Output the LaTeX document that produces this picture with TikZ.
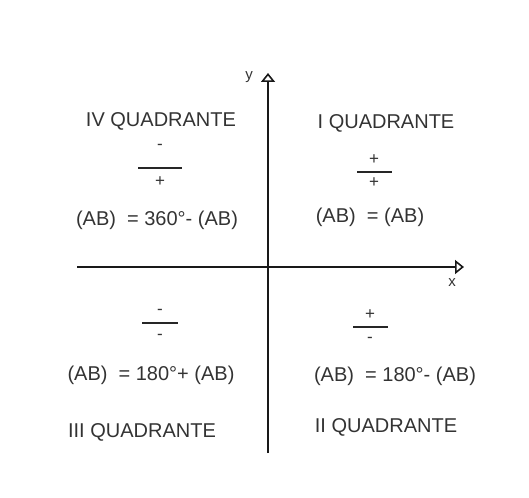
\documentclass[tikz,border=0pt]{standalone}
\usepackage{fontspec}
\setmainfont{Liberation Sans}
\usepackage{tikz}
\usetikzlibrary{arrows.meta}

\begin{document}
\begin{tikzpicture}[
  x=1pt, y=-1pt,
  label/.style={text=black!80, inner sep=0pt, font=\fontsize{20}{22}\selectfont},
  sign/.style={text=black!80, inner sep=0pt, font=\fontsize{17}{18}\selectfont},
  bar/.style={line width=1.3pt, draw=black!85},
  axis/.style={-{Triangle[open, length=9pt, width=14pt, line width=1.6pt]}, line width=2pt, draw=black!90}
]
  \useasboundingbox (0,0) rectangle (529,497);

  % axes
  \coordinate (ybot) at (268,453);
  \coordinate (ytop) at (268,73);
  \coordinate (xleft) at (77,267);
  \coordinate (xright) at (464,267);
  \draw[axis] (ybot) -- (ytop);
  \draw[axis] (xleft) -- (xright);
  \node[sign, font=\fontsize{15}{15}\selectfont] (ylab) at (249,77) {y};
  \node[sign, font=\fontsize{15}{15}\selectfont] (xlab) at (452,283) {x};

  % IV quadrant
  \node[label] (q4) at (161,121) {IV QUADRANTE};
  \node[sign] (q4num) at (160,147) {-};
  \node[sign] (q4den) at (160,182) {+};
  \draw[bar] (138,168) -- (182,168);
  \node[label] (q4eq) at (157,220) {(AB) \ = 360°- (AB)};

  % I quadrant
  \node[label] (q1) at (386,123) {I QUADRANTE};
  \node[sign] (q1num) at (374,160) {+};
  \node[sign] (q1den) at (374,183) {+};
  \draw[bar] (357,172) -- (392,172);
  \node[label] (q1eq) at (370,217) {(AB) \ = (AB)};

  % III quadrant
  \node[sign] (q3num) at (160,312) {-};
  \node[sign] (q3den) at (160,337) {-};
  \draw[bar] (142,323) -- (178,323);
  \node[label] (q3eq) at (151,375) {(AB) \ = 180°+ (AB)};
  \node[label] (q3) at (142,432) {III QUADRANTE};

  % II quadrant
  \node[sign] (q2num) at (370,315) {+};
  \node[sign] (q2den) at (370,340) {-};
  \draw[bar] (353,327) -- (388,327);
  \node[label] (q2eq) at (395,376) {(AB) \ = 180°- (AB)};
  \node[label] (q2) at (386,427) {II QUADRANTE};
\end{tikzpicture}
\end{document}
